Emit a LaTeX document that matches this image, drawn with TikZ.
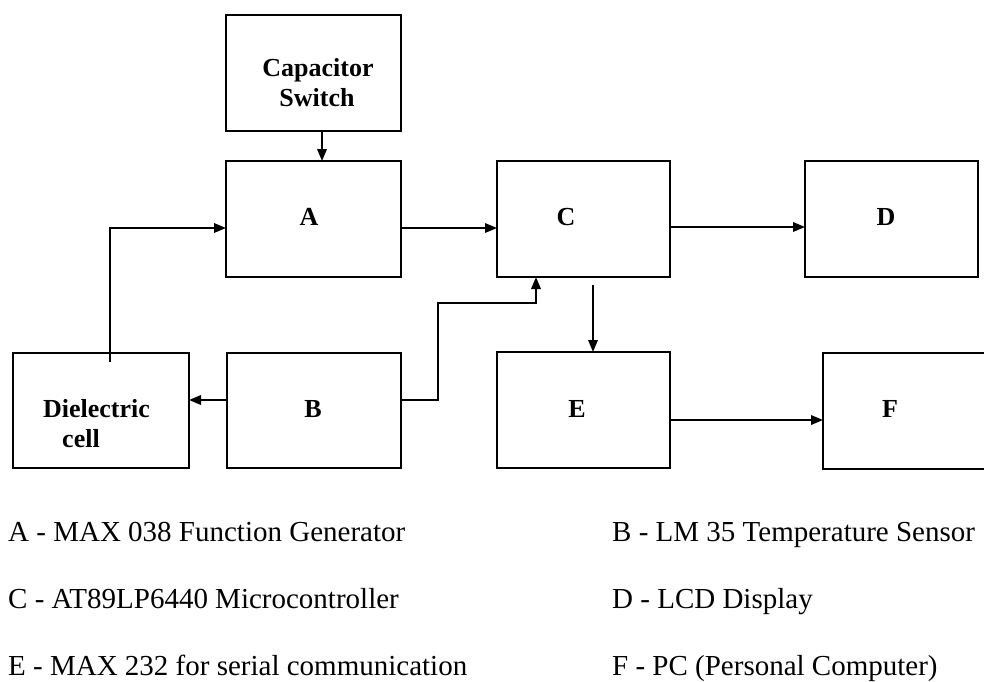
\documentclass[tikz,border=0pt]{standalone}
\usepackage{fontspec}
\setmainfont{Liberation Serif}
\usetikzlibrary{arrows.meta}
\tikzset{
  box/.style={draw=black, line width=1.8pt, rectangle, inner sep=0pt, outer sep=0pt},
  arr/.style={draw=black, line width=1.8pt, -{Triangle[length=12pt,width=9.5pt]}},
  lbl/.style={anchor=base, inner sep=0pt, font=\fontsize{26}{30}\selectfont\bfseries},
  leg/.style={anchor=base west, inner sep=0pt, font=\fontsize{29}{33}\selectfont}
}
\begin{document}
\begin{tikzpicture}[x=1pt,y=-1pt]
\useasboundingbox[fill=white] (0,0) rectangle (984,681);
\clip (0,0) rectangle (984,681);
% boxes
\node[box, minimum width=175pt, minimum height=116pt] (cap) at (313.5,73) {};
\node[box, minimum width=175pt, minimum height=116pt] (A) at (313.5,219) {};
\node[box, minimum width=173pt, minimum height=116pt] (C) at (583.5,219) {};
\node[box, minimum width=173pt, minimum height=116pt] (D) at (891.5,219) {};
\node[box, minimum width=176pt, minimum height=115pt] (diel) at (101,410.5) {};
\node[box, minimum width=174pt, minimum height=115pt] (B) at (314,410.5) {};
\node[box, minimum width=173pt, minimum height=116pt] (E) at (583.5,410) {};
\node[box, minimum width=180pt, minimum height=116pt] (F) at (913,411) {};
% labels
\node[lbl] (capt1) at (318,76) {Capacitor};
\node[lbl] (capt2) at (317,106) {Switch};
\node[lbl] (At) at (309,225) {A};
\node[lbl] (Ct) at (566,225) {C};
\node[lbl] (Dt) at (886,225) {D};
\node[lbl] (dielt1) at (96.5,417) {Dielectric};
\node[lbl] (dielt2) at (81,447) {cell};
\node[lbl] (Bt) at (313,417) {B};
\node[lbl] (Et) at (577,417) {E};
\node[lbl] (Ft) at (890,417) {F};
% connectors
\coordinate (dieltop) at (110,362);
\coordinate (cbelow) at (593,285);
\draw[arr] (cap.south -| 322,0) -- (A.north -| 322,0);
\draw[arr] (dieltop) |- (A.west |- 0,228);
\draw[arr] (A.east |- 0,228) -- (C.west |- 0,228);
\draw[arr] (C.east |- 0,227) -- (D.west |- 0,227);
\draw[arr] (B.west |- 0,400) -- (diel.east |- 0,400);
\draw[arr] (B.east |- 0,400) -- (438,400) -- (438,303) -- (536,303) -- (C.south -| 536,0);
\draw[arr] (cbelow) -- (E.north -| cbelow);
\draw[arr] (E.east |- 0,420) -- (F.west |- 0,420);
% legend
\node[leg] (lA) at (8,541) {A - MAX 038 Function Generator};
\node[leg] (lB) at (612,541) {B - LM 35 Temperature Sensor};
\node[leg] (lC) at (8,608) {C - AT89LP6440 Microcontroller};
\node[leg] (lD) at (612,608) {D - LCD Display};
\node[leg] (lE) at (8,675) {E - MAX 232 for serial communication};
\node[leg] (lF) at (612,675) {F - PC (Personal Computer)};
\end{tikzpicture}
\end{document}
